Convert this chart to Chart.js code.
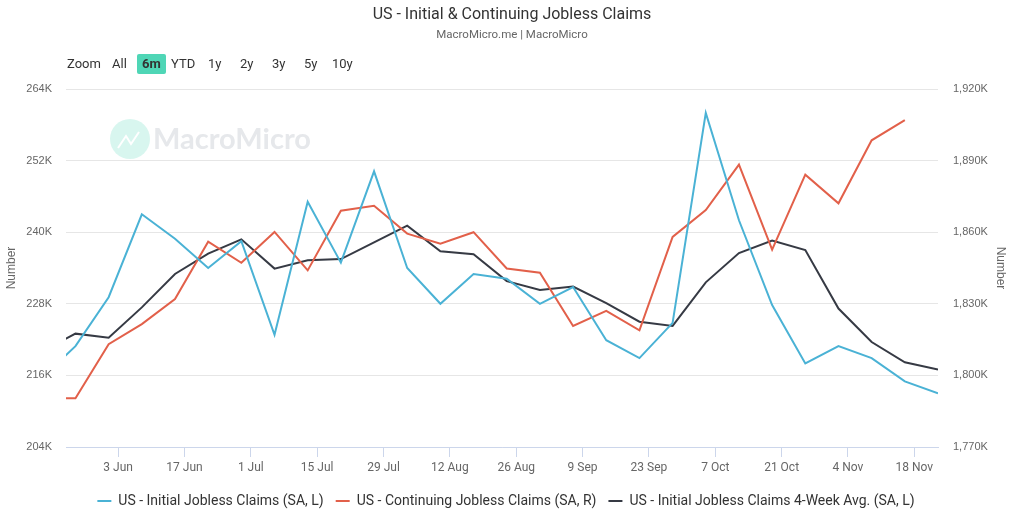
<!DOCTYPE html>
<html>
<head>
<meta charset="utf-8">
<title>US - Initial & Continuing Jobless Claims</title>
<script src="https://cdn.jsdelivr.net/npm/chart.js@4.4.1/dist/chart.umd.min.js"></script>
<style>
  body { margin: 0; background: #fff; }
  #wrap { position: relative; width: 1024px; height: 523px; font-family: Roboto, sans-serif; }
  #myChart { position: absolute; left: 0; top: 0; }
  .title { position: absolute; top: 4px; left: 0; width: 1024px; text-align: center; font-size: 16px; color: #333; }
  .subtitle { position: absolute; top: 27px; left: 0; width: 1024px; text-align: center; font-size: 11.5px; color: #666; }
  .range { position: absolute; top: 54px; font-size: 13px; color: #333; line-height: 20px; }
  .range span { position: absolute; white-space: nowrap; }
  .range .on { background: #4fd6b6; border-radius: 2px; padding: 0 5px; font-weight: bold; }
</style>
</head>
<body>
<div id="wrap">
  <canvas id="myChart" width="1024" height="523"></canvas>
  <div class="title">US - Initial &amp; Continuing Jobless Claims</div>
  <div class="subtitle">MacroMicro.me | MacroMicro</div>
  <div class="range">
    <span style="left:67px">Zoom</span>
    <span style="left:112px">All</span>
    <span class="on" style="left:137px">6m</span>
    <span style="left:171px">YTD</span>
    <span style="left:208px">1y</span>
    <span style="left:240px">2y</span>
    <span style="left:272px">3y</span>
    <span style="left:304px">5y</span>
    <span style="left:332px">10y</span>
  </div>
</div>
<script>
// weekly dates (week ending Saturday)
var dates = ['2024-05-18', '2024-05-25', '2024-06-01', '2024-06-08', '2024-06-15', '2024-06-22', '2024-06-29',
  '2024-07-06', '2024-07-13', '2024-07-20', '2024-07-27', '2024-08-03', '2024-08-10', '2024-08-17',
  '2024-08-24', '2024-08-31', '2024-09-07', '2024-09-14', '2024-09-21', '2024-09-28', '2024-10-05',
  '2024-10-12', '2024-10-19', '2024-10-26', '2024-11-02', '2024-11-09', '2024-11-16', '2024-11-23'];

// thousands, left axis
var initialClaims = [215.7, 220.9, 229.1, 243, 238.9, 234, 238.5, 222.8, 245.1, 234.9, 250.2, 234, 228, 233,
  232.2, 228, 230.8, 221.9, 218.9, 224.8, 260, 242, 227.8, 218, 220.9, 218.9, 215, 213];
var avg4Week = [220.1, 223, 222.3, 227.4, 233, 236.4, 238.8, 233.9, 235.3, 235.5, 238.3, 241.1, 236.8, 236.3,
  231.8, 230.3, 230.9, 228.1, 225, 224.3, 231.6, 236.5, 238.6, 237, 227.2, 221.6, 218.2, 217];
// thousands, right axis
var continuingClaims = [1790.4, 1790.4, 1813.1, 1821.5, 1832, 1856, 1847.2, 1860.1, 1844, 1869, 1871.1, 1859.4,
  1855.2, 1860, 1844.8, 1843, 1820.7, 1827, 1818.9, 1858, 1869.3, 1888.3, 1852.7, 1884.1, 1872.1, 1898.5, 1907, null];

var tickDates = ['2024-06-03', '2024-06-17', '2024-07-01', '2024-07-15', '2024-07-29', '2024-08-12', '2024-08-26',
  '2024-09-09', '2024-09-23', '2024-10-07', '2024-10-21', '2024-11-04', '2024-11-18'];
var tickLabels = ['3 Jun', '17 Jun', '1 Jul', '15 Jul', '29 Jul', '12 Aug', '26 Aug', '9 Sep', '23 Sep', '7 Oct', '21 Oct', '4 Nov', '18 Nov'];

var rangeStart = '2024-05-23'; // 6m window
var rangeEnd = '2024-11-23';

var FONT = 'Roboto, sans-serif';
var SANS = '"Liberation Sans", Arial, sans-serif';

// days since the start of the window
function dayOf(d) {
    return (Date.parse(d) - Date.parse(rangeStart)) / 864e5;
}

function toPoints(values) {
    return values.map(function(v, i) { return { x: dayOf(dates[i]), y: v }; });
}

function commaK(v) {
    return v.toString().replace(/\B(?=(\d{3})+(?!\d))/g, ',') + 'K';
}

// faint logo behind the lines
var watermark = {
    id: 'watermark',
    beforeDatasetsDraw: function(chart) {
        var ctx = chart.ctx;
        ctx.save();
        ctx.fillStyle = 'rgba(79, 214, 182, 0.22)';
        ctx.beginPath();
        ctx.arc(130, 139, 20, 0, Math.PI * 2);
        ctx.fill();
        ctx.strokeStyle = '#fff';
        ctx.lineWidth = 2;
        ctx.beginPath();
        ctx.moveTo(118, 148); ctx.lineTo(126, 136); ctx.lineTo(131, 144); ctx.lineTo(139, 132);
        ctx.stroke();
        ctx.fillStyle = '#e6e8eb';
        ctx.font = 'bold 29px Lato, sans-serif';
        ctx.textBaseline = 'middle';
        ctx.fillText('MacroMicro', 153, 140);
        ctx.restore();
    }
};

var ctx = document.getElementById('myChart').getContext('2d');
var chart = new Chart(ctx, {
    type: 'line',
    data: {
        datasets: [
            {
                label: 'US - Initial Jobless Claims (SA, L)',
                data: toPoints(initialClaims),
                borderColor: '#4ab2d5',
                backgroundColor: '#4ab2d5',
                yAxisID: 'yL'
            },
            {
                label: 'US - Continuing Jobless Claims (SA, R)',
                data: toPoints(continuingClaims),
                borderColor: '#e2604a',
                backgroundColor: '#e2604a',
                yAxisID: 'yR'
            },
            {
                label: 'US - Initial Jobless Claims 4-Week Avg. (SA, L)',
                data: toPoints(avg4Week),
                borderColor: '#363a44',
                backgroundColor: '#363a44',
                yAxisID: 'yL'
            }
        ]
    },
    options: {
        responsive: false,
        animation: false,
        layout: { padding: { top: 89, bottom: 5, left: 0, right: 12 } },
        elements: {
            line: { borderWidth: 2, tension: 0 },
            point: { radius: 0, hoverRadius: 0 }
        },
        plugins: {
            tooltip: { enabled: false },
            legend: {
                position: 'bottom',
                labels: {
                    color: '#333',
                    font: { family: FONT, size: 14 },
                    boxWidth: 14,
                    boxHeight: 2,
                    padding: 12,
                    generateLabels: function(c) {
                        var items = Chart.defaults.plugins.legend.labels.generateLabels(c);
                        items.forEach(function(it) { it.lineWidth = 0; });
                        return items;
                    }
                }
            }
        },
        scales: {
            x: {
                type: 'linear',
                min: dayOf(rangeStart),
                max: dayOf(rangeEnd),
                afterBuildTicks: function(scale) {
                    scale.ticks = tickDates.map(function(d) { return { value: dayOf(d) }; });
                },
                afterFit: function(scale) { scale.height = 35; },
                ticks: {
                    autoSkip: false,
                    maxRotation: 0,
                    color: '#666',
                    font: { family: FONT, size: 12 },
                    padding: 4,
                    callback: function(v, i) { return tickLabels[i]; }
                },
                grid: { drawOnChartArea: false, drawTicks: true, tickLength: 10, color: '#ccd6eb' },
                border: { color: '#ccd6eb' }
            },
            yL: {
                position: 'left',
                min: 204,
                max: 264,
                afterBuildTicks: function(scale) {
                    var t = [];
                    for (var v = 204; v <= 264; v += 12) t.push({ value: v });
                    scale.ticks = t;
                },
                afterFit: function(scale) { scale.width = 66; },
                ticks: {
                    color: '#666',
                    font: { family: SANS, size: 11 },
                    padding: 14,
                    callback: function(v) { return v + 'K'; }
                },
                grid: { color: '#e6e6e6', drawTicks: false },
                border: { display: false },
                title: { display: true, text: 'Number', color: '#666', font: { family: SANS, size: 12 } }
            },
            yR: {
                position: 'right',
                min: 1770,
                max: 1920,
                afterBuildTicks: function(scale) {
                    var t = [];
                    for (var v = 1770; v <= 1920; v += 30) t.push({ value: v });
                    scale.ticks = t;
                },
                afterFit: function(scale) { scale.width = 74; },
                ticks: {
                    color: '#666',
                    font: { family: SANS, size: 11 },
                    padding: 15,
                    callback: function(v) { return commaK(v); }
                },
                grid: { drawOnChartArea: false, drawTicks: false },
                border: { display: false },
                title: { display: true, text: 'Number', color: '#666', font: { family: SANS, size: 12 } }
            }
        }
    },
    plugins: [watermark]
});
</script>
</body>
</html>
